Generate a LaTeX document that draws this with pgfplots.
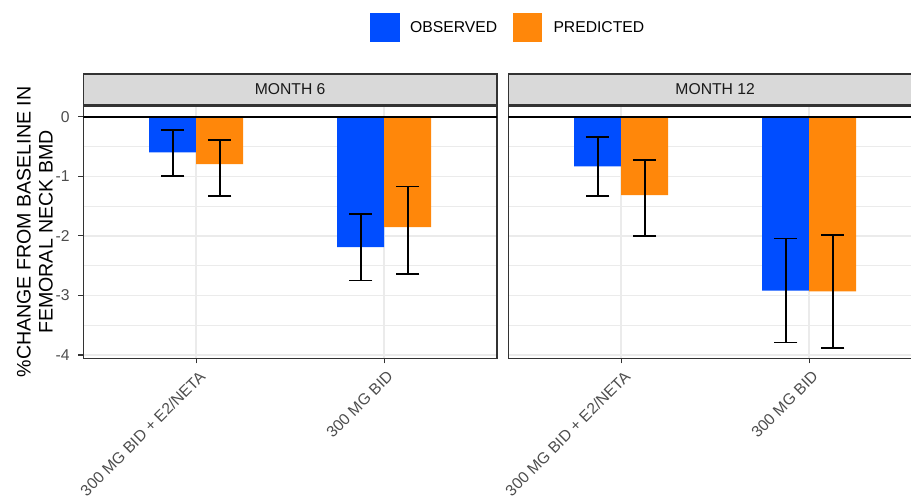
\documentclass[border=0pt]{standalone}
\usepackage{pgfplots}
\pgfplotsset{compat=1.18}
\usepackage{pgfplotstable}
\usepackage{fontspec}
\setmainfont{Liberation Sans}
\definecolor{obs}{RGB}{0,77,255}
\definecolor{pred}{RGB}{255,135,10}
\definecolor{gridc}{RGB}{235,235,235}
\definecolor{framec}{RGB}{51,51,51}
\definecolor{ticktext}{RGB}{77,77,77}
\definecolor{stripfill}{RGB}{217,217,217}
\definecolor{striptext}{RGB}{26,26,26}

\pgfplotstableread{
x y ep em
0.875 -0.600 0.380 0.395
1.875 -2.190 0.560 0.560
}\mobs
\pgfplotstableread{
x y ep em
1.125 -0.795 0.405 0.530
2.125 -1.855 0.685 0.780
}\mpred
\pgfplotstableread{
x y ep em
0.875 -0.835 0.500 0.500
1.875 -2.920 0.875 0.870
}\yobs
\pgfplotstableread{
x y ep em
1.125 -1.315 0.585 0.685
2.125 -2.930 0.945 0.950
}\ypred

\newcommand{\smallf}{\fontsize{15.7}{18}\selectfont}

\pgfplotsset{
  panel/.style={
    scale only axis, width=413.7pt, height=252.5pt,
    anchor=south west,
    xmin=0.4, xmax=2.6, ymin=-4.058, ymax=0.18,
    xtick={1,2}, xticklabels={300 MG BID + E2/NETA, 300 MG BID},
    ytick={-4,-3,-2,-1,0}, yticklabels={-4,-3,-2,-1,0},
    minor ytick={-3.5,-2.5,-1.5,-0.5},
    xmajorgrids, ymajorgrids, yminorgrids,
    major grid style={gridc, line width=1.4pt},
    minor grid style={gridc, line width=0.7pt},
    axis line style={framec, line width=1.2pt},
    tick align=outside, major tick length=5pt, minor tick length=0pt,
    tick style={framec, line width=1.2pt},
    xtick pos=left, ytick pos=left,
    xticklabel style={font=\smallf, text=ticktext, inner sep=0pt, xshift=2pt, yshift=-6pt, rotate=45, anchor=north east},
    yticklabel style={font=\smallf, text=ticktext, inner sep=0pt, anchor=east, xshift=-8.5pt},
  },
  barobs/.style={ybar, bar width=0.25, bar shift=0pt, fill=obs, draw=none,
    error bars/.cd, y dir=both, y explicit,
    error bar style={draw=black, line width=1.8pt},
    error mark options={draw=black, line width=1.8pt, rotate=90, mark size=11.65pt}},
  barpred/.style={ybar, bar width=0.25, bar shift=0pt, fill=pred, draw=none,
    error bars/.cd, y dir=both, y explicit,
    error bar style={draw=black, line width=1.8pt},
    error mark options={draw=black, line width=1.8pt, rotate=90, mark size=11.65pt}},
}

\begin{document}
\begin{tikzpicture}
\begin{scope}
\clip (0pt,0pt) rectangle (911pt,500pt);

% left panel: MONTH 6
\begin{axis}[panel, at={(83.3pt,141.5pt)}]
\addplot[barobs] table[x=x, y=y, y error plus=ep, y error minus=em] {\mobs};
\addplot[barpred] table[x=x, y=y, y error plus=ep, y error minus=em] {\mpred};
\addplot[black, line width=1.7pt, forget plot] coordinates {(0.4,0) (2.6,0)};
\end{axis}

% right panel: MONTH 12
\begin{axis}[panel, at={(508.3pt,141.5pt)}, yticklabels={}, ytick style={draw=none}]
\addplot[barobs] table[x=x, y=y, y error plus=ep, y error minus=em] {\yobs};
\addplot[barpred] table[x=x, y=y, y error plus=ep, y error minus=em] {\ypred};
\addplot[black, line width=1.7pt, forget plot] coordinates {(0.4,0) (2.6,0)};
\end{axis}

% strips
\draw[framec, line width=1.2pt, fill=stripfill] (83.3pt,395.7pt) rectangle (497pt,426pt);
\node[font=\smallf, text=striptext] at (290.15pt,410.85pt) {MONTH 6};
\draw[framec, line width=1.2pt, fill=stripfill] (508.3pt,395.7pt) rectangle (922pt,426pt);
\node[font=\smallf, text=striptext] at (715.15pt,410.85pt) {MONTH 12};

% y title
\node[rotate=90, align=center, font=\fontsize{19.6}{22}\selectfont] at (35pt,268pt) {\%CHANGE FROM BASELINE IN\\FEMORAL NECK BMD};

% legend
\fill[obs] (370pt,458pt) rectangle (400pt,487pt);
\node[anchor=west, inner sep=0pt, font=\smallf] at (410pt,472.5pt) {OBSERVED};
\fill[pred] (512.7pt,458pt) rectangle (542.3pt,487pt);
\node[anchor=west, inner sep=0pt, font=\smallf] at (553.3pt,472.5pt) {PREDICTED};
\end{scope}
\pgfresetboundingbox
\path (0pt,0pt) rectangle (911pt,500pt);
\end{tikzpicture}
\end{document}
